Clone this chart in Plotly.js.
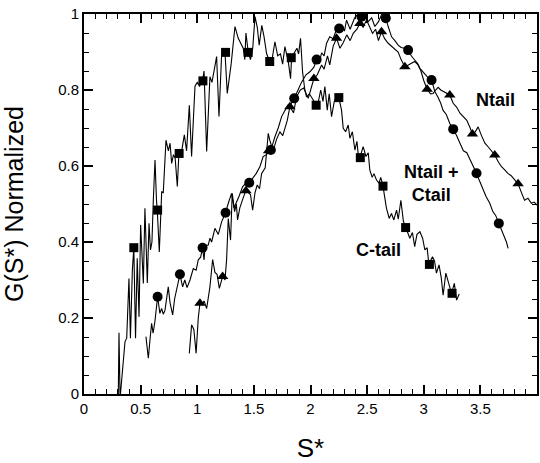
<!DOCTYPE html>
<html><head><meta charset="utf-8">
<script src="https://cdn.plot.ly/plotly-3.0.1.min.js"></script>
<style>html,body{margin:0;padding:0;background:#fff;}#chart{width:540px;height:463px;}</style>
</head><body><div id="chart"></div>
<script>
// C-tail (squares)
const ctailX = [0.303,0.309,0.318,0.322,0.362,0.377,0.397,0.41,0.427,0.44,0.455,0.47,0.486,0.50,0.524,0.538,0.559,0.574,0.587,0.60,0.612,0.627,0.64,0.647,0.665,0.686,0.70,0.724,0.745,0.76,0.774,0.79,0.805,0.824,0.838,0.86,0.886,0.906,0.93,0.95,0.98,1.0,1.02,1.047,1.06,1.083,1.112,1.13,1.171,1.192,1.215,1.245,1.265,1.30,1.333,1.362,1.406,1.42,1.43,1.45,1.47,1.49,1.51,1.53,1.547,1.57,1.59,1.612,1.64,1.66,1.686,1.71,1.735,1.754,1.774,1.804,1.824,1.833,1.88,1.895,1.912,1.93,1.95,1.965,1.99,2.024,2.045,2.07,2.09,2.11,2.127,2.148,2.165,2.186,2.21,2.235,2.25,2.274,2.289,2.31,2.333,2.348,2.37,2.392,2.41,2.425,2.436,2.465,2.49,2.51,2.524,2.545,2.56,2.583,2.605,2.62,2.64,2.657,2.67,2.695,2.715,2.736,2.76,2.775,2.798,2.82,2.842,2.877,2.90,2.92,2.94,2.966,2.99,3.01,3.03,3.045,3.077,3.095,3.112,3.135,3.155,3.171,3.195,3.22,3.245,3.27,3.29,3.313];
const ctailY = [0,0.161,0,0,0.138,0.147,0.304,0.147,0.326,0.385,0.147,0.357,0.203,0.445,0.291,0.489,0.292,0.449,0.379,0.40,0.51,0.616,0.51,0.484,0.374,0.532,0.53,0.668,0.64,0.66,0.607,0.63,0.62,0.546,0.633,0.635,0.682,0.64,0.76,0.625,0.81,0.82,0.81,0.824,0.85,0.638,0.835,0.82,0.888,0.73,0.892,0.899,0.791,0.87,0.967,0.936,0.91,0.88,0.95,0.9,0.88,0.91,0.993,0.965,0.918,0.97,0.94,0.896,0.875,0.88,0.927,0.89,0.895,0.868,0.914,0.874,0.83,0.885,0.91,0.895,0.936,0.848,0.80,0.782,0.79,0.774,0.759,0.77,0.80,0.77,0.809,0.747,0.79,0.73,0.77,0.785,0.78,0.747,0.699,0.69,0.708,0.673,0.69,0.642,0.665,0.62,0.622,0.651,0.625,0.635,0.589,0.57,0.58,0.563,0.555,0.57,0.547,0.519,0.49,0.462,0.475,0.458,0.484,0.46,0.51,0.455,0.438,0.41,0.425,0.388,0.42,0.427,0.41,0.379,0.385,0.341,0.361,0.35,0.318,0.34,0.305,0.26,0.318,0.29,0.265,0.291,0.247,0.263];
const ctailMarkX = [0.44,0.65,0.84,1.05,1.25,1.45,1.64,1.83,2.05,2.25,2.44,2.64,2.84,3.05,3.25];
const ctailMarkY = [0.385,0.484,0.633,0.824,0.899,0.899,0.875,0.885,0.76,0.78,0.622,0.547,0.438,0.341,0.265];

// Ntail + Ctail (circles)
const bothX = [0.547,0.568,0.585,0.597,0.61,0.626,0.65,0.67,0.685,0.70,0.715,0.744,0.76,0.783,0.80,0.83,0.847,0.871,0.89,0.91,0.936,0.965,0.99,1.009,1.03,1.047,1.06,1.07,1.097,1.112,1.127,1.156,1.186,1.215,1.25,1.274,1.303,1.325,1.35,1.37,1.40,1.43,1.459,1.49,1.52,1.553,1.582,1.61,1.65,1.686,1.715,1.745,1.77,1.80,1.83,1.856,1.89,1.92,1.96,1.995,2.03,2.054,2.075,2.098,2.12,2.142,2.17,2.20,2.23,2.253,2.28,2.30,2.318,2.35,2.39,2.42,2.45,2.48,2.51,2.54,2.568,2.60,2.63,2.665,2.686,2.716,2.745,2.774,2.80,2.83,2.862,2.89,2.92,2.945,2.966,3.0,3.03,3.069,3.098,3.127,3.15,3.17,3.20,3.23,3.26,3.29,3.32,3.35,3.38,3.41,3.44,3.466,3.495,3.524,3.55,3.583,3.61,3.635,3.663,3.687,3.716,3.73,3.745];
const bothY = [0.151,0.094,0.15,0.186,0.16,0.19,0.256,0.212,0.225,0.21,0.22,0.282,0.24,0.208,0.25,0.29,0.315,0.282,0.30,0.28,0.30,0.33,0.326,0.353,0.36,0.385,0.353,0.39,0.392,0.41,0.40,0.436,0.42,0.453,0.477,0.502,0.528,0.49,0.505,0.521,0.545,0.555,0.556,0.568,0.58,0.598,0.625,0.63,0.642,0.677,0.70,0.73,0.745,0.76,0.765,0.778,0.80,0.82,0.84,0.848,0.86,0.88,0.87,0.898,0.89,0.923,0.94,0.935,0.96,0.962,0.97,0.955,0.984,0.96,0.99,1.0,0.993,0.995,0.98,0.99,0.967,0.98,1.0,0.989,0.967,0.94,0.93,0.918,0.912,0.91,0.905,0.89,0.879,0.87,0.857,0.845,0.835,0.826,0.796,0.78,0.765,0.747,0.735,0.712,0.697,0.68,0.66,0.64,0.635,0.616,0.60,0.581,0.559,0.537,0.52,0.502,0.48,0.47,0.449,0.432,0.414,0.40,0.383];
const bothMarkX = [0.65,0.847,1.047,1.25,1.459,1.65,1.856,2.054,2.253,2.45,2.665,2.862,3.069,3.26,3.466,3.663];
const bothMarkY = [0.256,0.315,0.385,0.477,0.556,0.642,0.778,0.88,0.962,0.993,0.989,0.905,0.826,0.697,0.581,0.449];

// Ntail (triangles)
const ntailX = [0.93,0.95,0.97,0.99,1.009,1.024,1.045,1.06,1.083,1.112,1.136,1.156,1.175,1.195,1.224,1.245,1.259,1.274,1.294,1.309,1.33,1.345,1.356,1.376,1.41,1.43,1.47,1.489,1.51,1.53,1.55,1.568,1.60,1.627,1.64,1.67,1.70,1.73,1.755,1.774,1.795,1.818,1.85,1.877,1.91,1.94,1.98,2.03,2.06,2.098,2.12,2.15,2.17,2.2,2.23,2.26,2.29,2.32,2.35,2.377,2.41,2.436,2.465,2.495,2.52,2.548,2.575,2.6,2.627,2.655,2.686,2.715,2.745,2.774,2.80,2.833,2.86,2.89,2.92,2.95,2.975,3.0,3.03,3.06,3.083,3.105,3.127,3.15,3.18,3.205,3.23,3.26,3.29,3.32,3.35,3.38,3.41,3.43,3.455,3.48,3.51,3.54,3.57,3.6,3.627,3.66,3.687,3.715,3.745,3.77,3.80,3.833,3.86,3.89,3.92,3.95,3.975,4.0];
const ntailY = [0.107,0.182,0.17,0.107,0.2,0.239,0.235,0.245,0.225,0.282,0.354,0.32,0.315,0.278,0.309,0.30,0.353,0.462,0.405,0.528,0.48,0.50,0.458,0.49,0.52,0.535,0.525,0.484,0.53,0.55,0.54,0.58,0.595,0.686,0.668,0.64,0.67,0.69,0.68,0.70,0.72,0.756,0.74,0.782,0.80,0.805,0.778,0.83,0.84,0.866,0.855,0.89,0.866,0.915,0.936,0.91,0.925,0.945,0.93,0.949,0.96,0.975,0.965,0.984,0.965,0.949,0.96,0.93,0.953,0.935,0.923,0.915,0.908,0.90,0.88,0.861,0.865,0.87,0.875,0.866,0.85,0.825,0.802,0.79,0.791,0.80,0.807,0.80,0.795,0.79,0.787,0.765,0.755,0.739,0.73,0.72,0.70,0.684,0.69,0.703,0.68,0.66,0.65,0.64,0.629,0.61,0.598,0.59,0.58,0.575,0.563,0.553,0.532,0.51,0.515,0.502,0.505,0.497];
const ntailMarkX = [1.024,1.224,1.43,1.63,1.818,2.03,2.23,2.436,2.627,2.833,3.03,3.23,3.43,3.627,3.833];
const ntailMarkY = [0.239,0.309,0.535,0.64,0.756,0.83,0.936,0.975,0.953,0.861,0.802,0.787,0.684,0.629,0.553];

const labelText = ['Ntail','Ntail +<br>Ctail','C-tail'];
const labelX = [3.63,3.07,2.6];
const labelY = [0.774,0.555,0.379];

const lineStyle = {color:'#000', width:1.1};
const traces = [
  {x:ctailX, y:ctailY, mode:'lines', line:lineStyle},
  {x:bothX, y:bothY, mode:'lines', line:lineStyle},
  {x:ntailX, y:ntailY, mode:'lines', line:lineStyle},
  {x:ctailMarkX, y:ctailMarkY, mode:'markers', marker:{symbol:'square', size:9, color:'#000'}},
  {x:bothMarkX, y:bothMarkY, mode:'markers', marker:{symbol:'circle', size:10, color:'#000'}},
  {x:ntailMarkX, y:ntailMarkY, mode:'markers', marker:{symbol:'triangle-up', size:10, color:'#000'}}
];

const font = 'Liberation Sans';
const layout = {
  width:540, height:463,
  margin:{l:84, r:3, t:14, b:69},
  showlegend:false,
  paper_bgcolor:'#ffffff', plot_bgcolor:'#ffffff',
  font:{family:font, color:'#000000', size:15},
  xaxis:{
    range:[0,4], dtick:0.5,
    ticks:'inside', ticklen:9, tickwidth:1.5, tickcolor:'#000000',
    minor:{dtick:0.1, ticks:'inside', ticklen:5, tickwidth:1, tickcolor:'#000000'},
    showline:true, linewidth:2, linecolor:'#000000', mirror:'ticks',
    showgrid:false, zeroline:false,
    tickfont:{size:15},
    title:{text:'S*', font:{size:26}}
  },
  yaxis:{
    range:[0,1], dtick:0.2,
    ticks:'inside', ticklen:9, tickwidth:1.5, tickcolor:'#000000',
    minor:{dtick:0.05, ticks:'inside', ticklen:5, tickwidth:1, tickcolor:'#000000'},
    showline:true, linewidth:2, linecolor:'#000000', mirror:'ticks',
    showgrid:false, zeroline:false,
    tickfont:{size:15},
    title:{text:'G(S*) Normalized', font:{size:25}}
  },
  annotations: labelText.map((t,i)=>({
    x:labelX[i], y:labelY[i], xref:'x', yref:'y', text:'<b>'+t+'</b>',
    showarrow:false, font:{size:18, color:'#000000'}, align:'center'
  }))
};
Plotly.newPlot('chart', traces, layout, {displayModeBar:false});
</script></body></html>
